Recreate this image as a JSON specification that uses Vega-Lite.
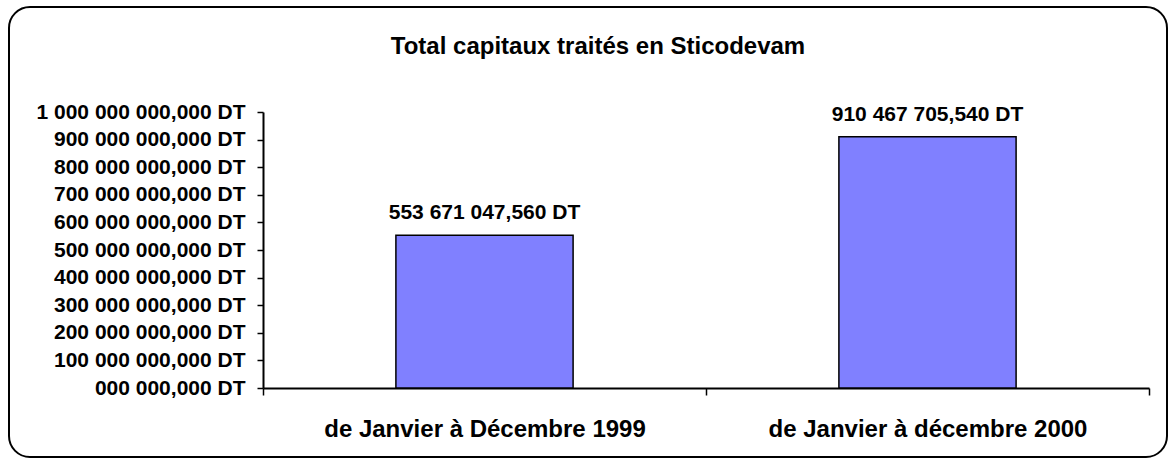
{
  "$schema": "https://vega.github.io/schema/vega-lite/v6.json",
  "autosize": {"type": "none"},
  "padding": {"left": 9, "top": 7, "right": 2, "bottom": 4},
  "width": 1158,
  "height": 450,
  "background": "white",
  "config": {
    "font": "Liberation Sans",
    "view": {"stroke": "black", "strokeWidth": 2, "cornerRadius": 21},
    "axis": {"grid": false, "domainColor": "black", "domainWidth": 2, "tickColor": "black", "tickWidth": 1.5, "labelColor": "black", "labelFontWeight": "bold", "labelFont": "Liberation Sans", "labelLimit": 0}
  },
  "title": {
    "text": "Total capitaux traités en Sticodevam",
    "font": "Liberation Sans",
    "fontSize": 24,
    "fontWeight": "bold",
    "color": "black",
    "anchor": "middle",
    "baseline": "alphabetic",
    "offset": -71,
    "dx": 10
  },
  "data": {
    "values": [
      {"periode": "de Janvier à Décembre 1999", "total": 553671047.56, "label": "553 671 047,560 DT"},
      {"periode": "de Janvier à décembre 2000", "total": 910467705.54, "label": "910 467 705,540 DT"}
    ]
  },
  "encoding": {
    "x": {
      "field": "periode",
      "type": "nominal",
      "sort": null,
      "title": null,
      "scale": {"range": [254, 1140], "paddingInner": 0, "paddingOuter": 0},
      "axis": {"offset": -69, "tickBand": "extent", "tickSize": 7, "labelPadding": 22, "labelFontSize": 24, "labelAngle": 0, "labelBaseline": "top"}
    },
    "y": {
      "field": "total",
      "type": "quantitative",
      "title": null,
      "scale": {"domain": [0, 1000000000], "range": [381, 105], "nice": false},
      "axis": {
        "offset": -254,
        "values": [0, 100000000, 200000000, 300000000, 400000000, 500000000, 600000000, 700000000, 800000000, 900000000, 1000000000],
        "tickSize": 6,
        "labelPadding": 12,
        "labelFontSize": 21,
        "labelExpr": "datum.value == 0 ? '000 000,000 DT' : replace(replace(format(datum.value, ',.3f'), regexp(',', 'g'), ' '), '.', ',') + ' DT'"
      }
    }
  },
  "layer": [
    {"mark": {"type": "bar", "color": "#8080FF", "stroke": "black", "strokeWidth": 1.5, "width": {"band": 0.4}}},
    {
      "mark": {"type": "text", "font": "Liberation Sans", "fontSize": 21, "fontWeight": "bold", "color": "black", "baseline": "alphabetic", "dy": -16},
      "encoding": {"text": {"field": "label"}}
    }
  ]
}
